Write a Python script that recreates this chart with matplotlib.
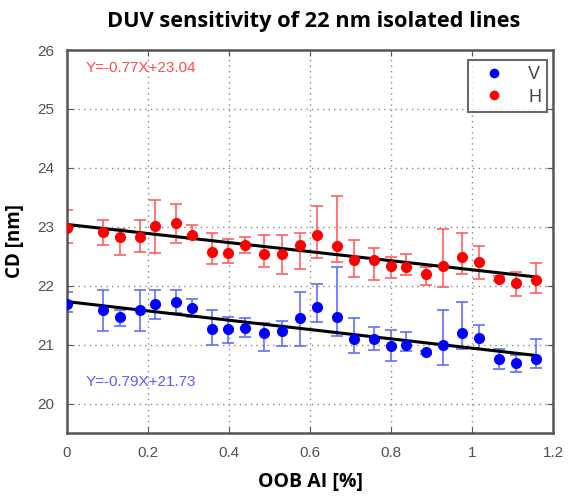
import matplotlib
matplotlib.use('Agg')
import matplotlib.pyplot as plt
import numpy as np

# OOB AI [%] for each measurement
oob = [0.0, 0.09, 0.131, 0.18, 0.216, 0.269, 0.308, 0.359, 0.398, 0.44, 0.487, 0.53, 0.575,
       0.618, 0.667, 0.709, 0.758, 0.8, 0.837, 0.886, 0.928, 0.976, 1.017, 1.065, 1.108, 1.157]

# H lines: CD and error bar ends
cd_h = [22.98, 22.92, 22.83, 22.83, 23.01, 23.06, 22.86, 22.58, 22.55, 22.69, 22.54, 22.53, 22.69,
        22.86, 22.67, 22.43, 22.43, 22.34, 22.32, 22.20, 22.34, 22.49, 22.41, 22.12, 22.05, 22.09]
h_hi = [23.28, 23.11, 22.97, 23.11, 23.46, 23.38, 23.03, 22.90, 22.79, 22.83, 22.86, 22.86, 22.89,
        23.35, 23.52, 22.78, 22.64, 22.48, 22.54, 22.32, 22.96, 22.89, 22.67, 22.16, 22.24, 22.38]
h_lo = [22.72, 22.69, 22.52, 22.58, 22.55, 22.73, 22.79, 22.37, 22.38, 22.55, 22.32, 22.20, 22.28,
        22.47, 22.41, 22.15, 22.10, 22.13, 22.18, 22.02, 21.98, 22.20, 22.11, 22.08, 21.83, 21.87]

# V lines: CD and error bar ends
cd_v = [21.69, 21.59, 21.47, 21.58, 21.69, 21.73, 21.62, 21.27, 21.26, 21.28, 21.19, 21.23, 21.45,
        21.64, 21.47, 21.10, 21.09, 20.97, 21.00, 20.87, 21.00, 21.19, 21.11, 20.76, 20.68, 20.75]
v_hi = [21.89, 21.93, 21.59, 21.93, 21.93, 21.93, 21.77, 21.58, 21.47, 21.45, 21.36, 21.40, 21.89,
        22.03, 22.32, 21.45, 21.30, 21.24, 21.21, 20.90, 21.58, 21.72, 21.34, 20.92, 20.83, 21.10]
v_lo = [21.56, 21.23, 21.32, 21.23, 21.44, 21.54, 21.47, 20.99, 21.02, 21.13, 20.89, 20.97, 20.98,
        21.38, 21.14, 20.85, 20.91, 20.73, 20.89, 20.84, 20.65, 20.93, 20.92, 20.58, 20.53, 20.61]

# linear fits shown on the chart
fit_h = (-0.77, 23.04)
fit_v = (-0.79, 21.73)

x = np.array(oob)
cdh = np.array(cd_h)
cdv = np.array(cd_v)
err_h = [cdh - np.array(h_lo), np.array(h_hi) - cdh]
err_v = [cdv - np.array(v_lo), np.array(v_hi) - cdv]

fig = plt.figure(figsize=(5.68, 4.98), dpi=100)
ax = fig.add_axes([0.118, 0.1305, 0.856, 0.769])

ax.errorbar(x, cdh, yerr=err_h, fmt='none', ecolor='#ff6060', elinewidth=1.2, capsize=4, capthick=1.2)
ax.errorbar(x, cdv, yerr=err_v, fmt='none', ecolor='#6070ff', elinewidth=1.2, capsize=4, capthick=1.2)

xf = np.array([0, x.max()])
ax.plot(xf, fit_h[0] * xf + fit_h[1], color='black', lw=2.2, zorder=3)
ax.plot(xf, fit_v[0] * xf + fit_v[1], color='black', lw=2.2, zorder=3)

ax.plot(x, cdv, 'o', color='#0000ff', ms=7, label='V', zorder=4)
ax.plot(x, cdh, 'o', color='#ff0000', ms=7, label='H', zorder=4)

ax.text(0.045, 25.7, 'Y=%.2fX+%.2f' % fit_h, color='#ff4a4a', fontsize=11,
        family='Liberation Sans', va='center')
ax.text(0.045, 20.36, 'Y=%.2fX+%.2f' % fit_v, color='#5a5aff', fontsize=11,
        family='Liberation Sans', va='center')

ax.set_xlim(0, 1.2)
ax.set_ylim(19.5, 26)
ax.set_xticks([0, 0.2, 0.4, 0.6, 0.8, 1, 1.2])
ax.set_xticklabels(['0', '0.2', '0.4', '0.6', '0.8', '1', '1.2'])
ax.set_yticks([20, 21, 22, 23, 24, 25, 26])
ax.grid(True, linestyle=(0, (1, 3)), color='#888888', lw=1)
ax.tick_params(direction='in', top=True, right=True, length=4, colors='#555555',
               labelsize=11, pad=9, labelcolor='#505050')
for lab in ax.get_xticklabels() + ax.get_yticklabels():
    lab.set_family('Liberation Sans')
for sp in ax.spines.values():
    sp.set_color('#555555')
    sp.set_linewidth(1.8)

leg = ax.legend(loc='upper right', bbox_to_anchor=(0.988, 0.974), borderaxespad=0,
                frameon=True, fancybox=False, edgecolor='#444444', markerscale=0.85,
                handlelength=2.2, handletextpad=0.8, borderpad=0.35, labelspacing=0.3,
                prop={'family': 'Liberation Sans', 'size': 13})
leg.get_frame().set_linewidth(1.5)
for t in leg.get_texts():
    t.set_color('#444444')

fig.text(0.552, 0.957, 'DUV sensitivity of 22 nm isolated lines', ha='center', va='center',
         fontsize=15.7, fontweight='bold', family='Open Sans')
ax.set_xlabel('OOB AI [%]', fontsize=14, fontweight='bold', family='Open Sans', labelpad=9)
ax.set_ylabel('CD [nm]', fontsize=13.5, fontweight='bold', family='Open Sans')
ax.yaxis.set_label_coords(-0.086, 0.5)

fig.savefig('out.png', dpi=100)
